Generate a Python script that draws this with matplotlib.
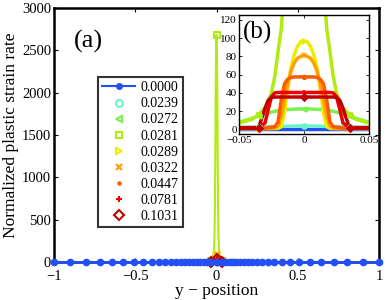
import matplotlib
matplotlib.use("Agg")
import matplotlib.pyplot as plt
from matplotlib.lines import Line2D

plt.rcParams['font.family'] = ['Liberation Serif', 'DejaVu Serif']
plt.rcParams['mathtext.fontset'] = 'stix'

# ---- data ----
labels = ['0.0000', '0.0239', '0.0272', '0.0281', '0.0289', '0.0322', '0.0447', '0.0781', '0.1031']
colors = ['#2350f5', '#6ef0c8', '#7cf050', '#b0ec10', '#f0ec00', '#ffa000', '#ff5a00', '#f00000', '#c00000']
markers = ['o', 'o', '<', 's', '>', 'x', '.', '+', 'D']

# grid of main-plot mesh points (blue series)
x_mesh = [-1.0, -0.9, -0.805, -0.72, -0.645, -0.575, -0.51, -0.45, -0.4, -0.355, -0.315,
          -0.28, -0.25, -0.22, -0.195, -0.17, -0.145, -0.12, -0.1, -0.08, -0.06, -0.035,
          0.0,
          0.035, 0.06, 0.08, 0.1, 0.12, 0.145, 0.17, 0.195, 0.22, 0.25, 0.28, 0.315,
          0.355, 0.4, 0.45, 0.51, 0.575, 0.645, 0.72, 0.805, 0.9, 1.0]
y_mesh_blue = [0.3] * len(x_mesh)

# fine profile positions near the centre
x_fine = [-0.05, -0.045, -0.04, -0.035, -0.03, -0.0275, -0.025, -0.0225, -0.02, -0.0175,
          -0.015, -0.0125, -0.01, -0.0075, -0.005, -0.0025, 0.0,
          0.0025, 0.005, 0.0075, 0.01, 0.0125, 0.015, 0.0175, 0.02, 0.0225, 0.025,
          0.0275, 0.03, 0.035, 0.04, 0.045, 0.05]

y_0000 = [0.3] * 33
y_0239 = [2.5, 2.5, 2.6, 2.7, 2.8, 2.9, 3.0, 3.1, 3.2, 3.3, 3.4, 3.5, 3.6, 3.7, 3.8, 3.9, 4.0,
          3.9, 3.8, 3.7, 3.6, 3.5, 3.4, 3.3, 3.2, 3.1, 3.0, 2.9, 2.8, 2.7, 2.6, 2.5, 2.5]
y_0272 = [8, 10, 12, 15, 17, 18, 19, 19.8, 20.5, 21, 21.5, 21.8, 22, 22.2, 22.4, 22.5, 22.5,
          22.5, 22.4, 22.2, 22, 21.8, 21.5, 21, 20.5, 19.8, 19, 18, 17, 15, 12, 10, 8]
y_0281 = [7, 9, 11, 16, 24, 31, 40, 58, 85, 110, 160, 300, 600, 1200, 2000, 2550, 2680,
          2550, 2000, 1200, 600, 300, 160, 110, 85, 58, 40, 31, 24, 16, 11, 9, 7]
y_0289 = [1, 1, 1, 1, 1, 1, 1, 1, 1.2, 3, 18, 45, 68, 82, 91, 96, 97,
          96, 91, 82, 68, 45, 18, 3, 1.2, 1, 1, 1, 1, 1, 1, 1, 1]
y_0322 = [1, 1, 1, 1, 1, 1, 1, 1.5, 4, 14, 32, 50, 64, 73, 78, 80, 81,
          80, 78, 73, 64, 50, 32, 14, 4, 1.5, 1, 1, 1, 1, 1, 1, 1]
y_0447 = [1.5, 1.5, 1.5, 1.5, 1.5, 2, 2.5, 3, 8, 32, 50, 55, 57, 57.5, 57.5, 57.5, 57.5,
          57.5, 57.5, 57.5, 57, 55, 50, 32, 8, 3, 2.5, 2, 1.5, 1.5, 1.5, 1.5, 1.5]
y_0781 = [2, 2, 2, 2, 7, 22, 36, 40, 40.5, 40.5, 40.5, 40.5, 40.5, 40.5, 40.5, 40.5, 40.5,
          40.5, 40.5, 40.5, 40.5, 40.5, 40.5, 40.5, 40.5, 40, 36, 22, 7, 2, 2, 2, 2]
y_1031 = [1.5, 1.5, 1.5, 1.5, 23, 32, 35, 35.5, 35.5, 35.5, 35.5, 35.5, 35.5, 35.5, 35.5, 35.5, 35.5,
          35.5, 35.5, 35.5, 35.5, 35.5, 35.5, 35.5, 35.5, 35.5, 35, 32, 23, 1.5, 1.5, 1.5, 1.5]

series = [y_0000, y_0239, y_0272, y_0281, y_0289, y_0322, y_0447, y_0781, y_1031]

main_xticks = [-1, -0.5, 0, 0.5, 1]
main_yticks = [0, 500, 1000, 1500, 2000, 2500, 3000]
inset_xticks = [-0.05, 0, 0.05]
inset_yticks = [0, 20, 40, 60, 80, 100, 120]

# ---- figure ----
fig = plt.figure(figsize=(3.87, 3.0), dpi=100)
ax = fig.add_axes([54/387, 1-262/300, 325/387, 254/300])

mark_idx = [3, 16, 29]

# colored series in main plot
for i in range(1, 9):
    ax.plot(x_fine, series[i], color=colors[i], lw=1.5, zorder=2)
    ms = 4 if markers[i] == '.' else 5
    ax.plot(x_fine, series[i], ls='none', marker=markers[i], color=colors[i],
            mfc='none', ms=ms, mew=1.5, markevery=mark_idx, clip_on=False, zorder=3)
# blue series
ax.plot(x_mesh, y_mesh_blue, color=colors[0], lw=2, marker='o', ms=4.5,
        mfc=colors[0], mec=colors[0], clip_on=False, zorder=4)

ax.set_xlim(-1, 1)
ax.set_ylim(0, 3000)
ax.set_xticks(main_xticks)
ax.set_xticklabels(['\u22121', '\u22120.5', '0', '0.5', '1'])
ax.set_yticks(main_yticks)
ax.tick_params(direction='in', top=True, right=True, labelsize=10.5, length=3, width=0.8)
ax.tick_params(axis='x', pad=5.5)
ax.tick_params(axis='y', pad=2)
for s in ax.spines.values():
    s.set_linewidth(1.8)
ax.set_xlabel('y \u2212 position', fontsize=12.5, labelpad=0)
ax.set_ylabel('Normalized plastic strain rate', fontsize=12.5, labelpad=2)
ax.text(0.06, 0.845, '(a)', transform=ax.transAxes, fontsize=19)

# legend
handles = [Line2D([], [], color=colors[0], lw=1.5, marker='o', ms=4, mfc=colors[0])]
for i in range(1, 9):
    ms = 3.5 if markers[i] == '.' else 5
    handles.append(Line2D([], [], ls='none', marker=markers[i], color=colors[i],
                          mfc='none', ms=ms, mew=1.5))
leg = ax.legend(handles, labels, loc='lower left', bbox_to_anchor=(0.135, 0.138),
                fontsize=10, frameon=True, fancybox=False, edgecolor='black',
                handlelength=2.4, handletextpad=0.4, labelspacing=0.22,
                borderpad=0.3, borderaxespad=0)
leg.get_frame().set_linewidth(1.5)

# inset
axi = fig.add_axes([239/387, 1-134/300, 130/387, (134-15.3)/300])
for i in range(0, 9):
    axi.plot(x_fine, series[i], color=colors[i], lw=2.5, zorder=2 + i * 0.01)
    if i > 0:
        ms = 5 if markers[i] == '.' else 3.5
        axi.plot(x_fine, series[i], ls='none', marker=markers[i], color=colors[i],
                 mfc=colors[i], ms=ms, mew=1.3, markevery=mark_idx, zorder=3)
axi.set_xlim(-0.05, 0.05)
axi.set_ylim(-5, 125)
axi.set_xticks(inset_xticks)
axi.set_xticklabels(['\u22120.05', '0', '0.05'])
axi.set_yticks(inset_yticks)
axi.tick_params(direction='in', top=True, right=True, labelsize=8, length=2, width=0.6, pad=1.5)
for s in axi.spines.values():
    s.set_linewidth(1.0)
axi.text(0.03, 0.8, '(b)', transform=axi.transAxes, fontsize=18)

fig.savefig('out.png', dpi=100)
